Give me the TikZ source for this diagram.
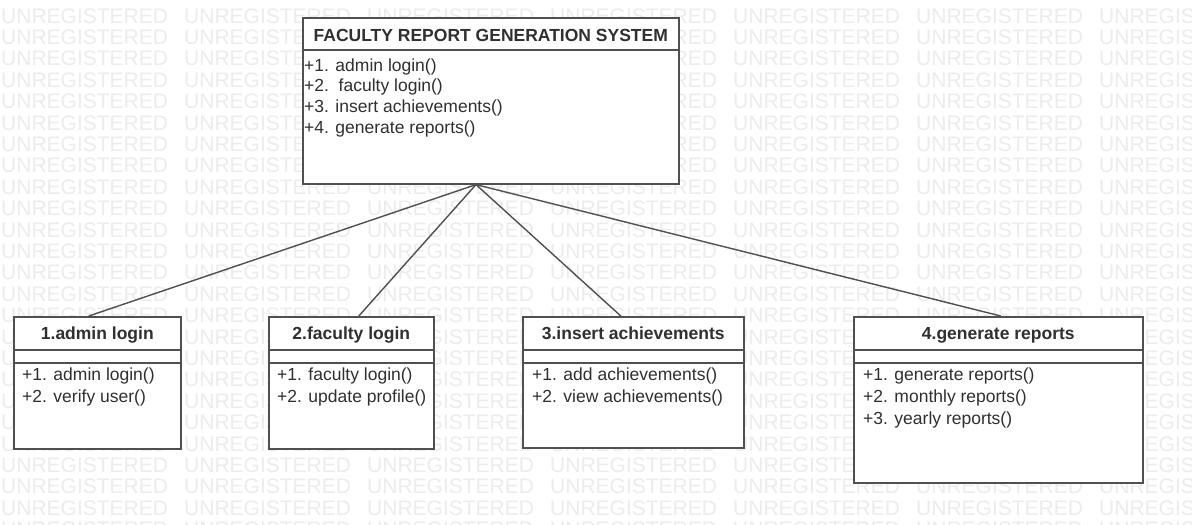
\documentclass[tikz,border=0pt]{standalone}
\usepackage{fontspec}
\setmainfont{Liberation Sans}
\usetikzlibrary{calc}
\definecolor{ink}{HTML}{303030}
\definecolor{edge}{HTML}{505050}
\definecolor{mark}{HTML}{ECECEC}

\begin{document}
\begin{tikzpicture}[x=1pt,y=-1pt,
  classbox/.style={draw=edge, line width=1.6pt, fill=white, inner sep=0pt, anchor=north west},
  ctitle/.style={font=\fontsize{17.5}{20}\selectfont\bfseries, text=ink, inner sep=0pt, anchor=base},
  member/.style={font=\fontsize{17.5}{20}\selectfont, text=ink, inner sep=0pt, anchor=base west},
  sepline/.style={draw=edge, line width=1.6pt},
  link/.style={draw=edge, line width=1.4pt},
  wmtext/.style={font=\fontsize{21}{21}\selectfont, text=mark, inner sep=0pt, anchor=base west}]

\useasboundingbox (0,0) rectangle (1192,525);
\clip (0,0) rectangle (1192,525);
\fill[white] (0,0) rectangle (1192,525);

% background tiling of the evaluation watermark
\foreach \r in {0,...,24}
  \foreach \c in {0,...,6}
    \node[wmtext] (wm-\r-\c) at ({1+183*\c},{23+21.4*\r}) {UNREGISTERED};

% class boxes
\node[classbox, minimum width=376pt, minimum height=166pt] (sys) at (302,17) {};
\node[classbox, minimum width=167pt, minimum height=132pt] (b1) at (13,316) {};
\node[classbox, minimum width=165pt, minimum height=132pt] (b2) at (268,316) {};
\node[classbox, minimum width=221pt, minimum height=131pt] (b3) at (522,316) {};
\node[classbox, minimum width=289pt, minimum height=166pt] (b4) at (853,316) {};

% connectors from the system class to its parts
\coordinate (hub) at ($(sys.south west)+(174,0)$);
\draw[link] (hub) -- ($(b1.north)+(-8.5,0)$);
\draw[link] (hub) -- ($(b2.north)+(7.5,0)$);
\draw[link] (hub) -- ($(b3.north)+(-12.5,0)$);
\draw[link] (hub) -- ($(b4.north)+(2.5,0)$);

% compartments
\draw[sepline] ($(sys.north west)+(0,33)$) -- ($(sys.north east)+(0,33)$);
\foreach \b in {b1,b2,b3,b4}{
  \draw[sepline] ($(\b.north west)+(0,34)$) -- ($(\b.north east)+(0,34)$);
  \draw[sepline] ($(\b.north west)+(0,47)$) -- ($(\b.north east)+(0,47)$);
}

% titles
\node[ctitle] (sys-t) at ($(sys.north)+(0,24.3)$) {FACULTY REPORT GENERATION SYSTEM};
\node[ctitle] (b1-t) at ($(b1.north)+(0,23.3)$) {1.admin login};
\node[ctitle] (b2-t) at ($(b2.north)+(0,23.3)$) {2.faculty login};
\node[ctitle] (b3-t) at ($(b3.north)+(0,23.3)$) {3.insert achievements};
\node[ctitle] (b4-t) at ($(b4.north)+(0,23.3)$) {4.generate reports};

% operations
\node[member] (sys-m1) at (304,71) {+1. admin login()};
\node[member] (sys-m2) at (304,91.7) {+2.\ \ faculty login()};
\node[member] (sys-m3) at (304,112.3) {+3. insert achievements()};
\node[member] (sys-m4) at (304,133) {+4. generate reports()};

\node[member] (b1-m1) at (22,380) {+1. admin login()};
\node[member] (b1-m2) at (22,402) {+2. verify user()};

\node[member] (b2-m1) at (277,380) {+1. faculty login()};
\node[member] (b2-m2) at (277,402) {+2. update profile()};

\node[member] (b3-m1) at (532,380) {+1. add achievements()};
\node[member] (b3-m2) at (532,402) {+2. view achievements()};

\node[member] (b4-m1) at (863,380) {+1. generate reports()};
\node[member] (b4-m2) at (863,402) {+2. monthly reports()};
\node[member] (b4-m3) at (863,424) {+3. yearly reports()};
\end{tikzpicture}
\end{document}
